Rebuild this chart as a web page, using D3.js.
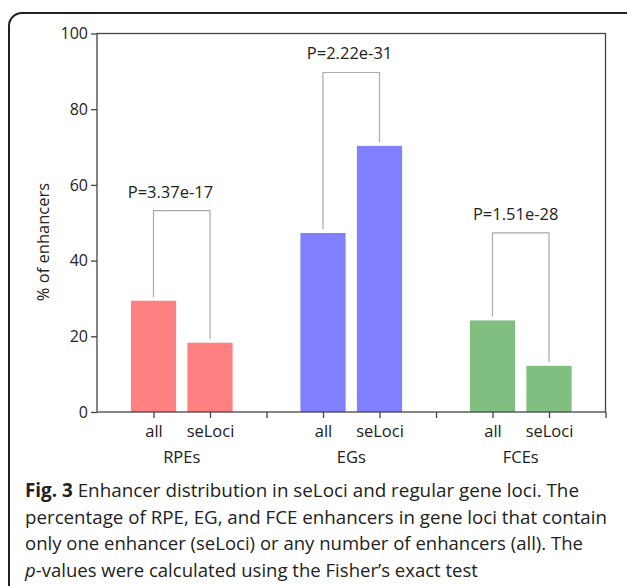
<!DOCTYPE html>
<html>
<head>
<meta charset="utf-8">
<script src="https://cdn.jsdelivr.net/npm/d3@7/dist/d3.min.js"></script>
<style>
    body { margin: 0; background: #fff; }
    svg { display: block; }
    text { font-family: "Open Sans", sans-serif; fill: #222; }
</style>
</head>
<body>
<div id="chart"></div>
<script>
"use strict";

// data
var groups = ["RPEs", "EGs", "FCEs"];
var subsets = ["all", "seLoci"];
var allValues = [29.4, 47.3, 24.2];
var seLociValues = [18.3, 70.3, 12.2];
var pLabels = ["P=3.37e-17", "P=2.22e-31", "P=1.51e-28"];
var bracketTops = [53.2, 89.7, 47.3];
var yTicks = [0, 20, 40, 60, 80, 100];
var captionLines = [
    ["Fig. 3", " Enhancer distribution in seLoci and regular gene loci. The"],
    ["", "percentage of RPE, EG, and FCE enhancers in gene loci that contain"],
    ["", "only one enhancer (seLoci) or any number of enhancers (all). The"],
    ["p", "-values were calculated using the Fisher\u2019s exact test"]
];

var width = 627;
var height = 586;
var groupColors = ["#ff8080", "#8080ff", "#80bf80"];
var labelShift = [-0.2, -0.03, -0.09]; // p label offset from bracket centre
var captionEnds = [579, 607, 583, 478];  // right edge of each caption line
var fs = 16.5;

var svg = d3.select("#chart")
    .append("svg")
    .attr("width", width)
    .attr("height", height);

// outer frame (right and bottom run off the picture)
svg.append("rect")
    .attr("x", 9)
    .attr("y", 13)
    .attr("width", 660)
    .attr("height", 640)
    .attr("rx", 13)
    .attr("fill", "none")
    .attr("stroke", "#222")
    .attr("stroke-width", 2);

var x = d3.scaleLinear().domain([0, 9]).range([97, 605.5]);
var y = d3.scaleLinear().domain([0, 100]).range([412, 33.5]);

// flatten to bars
var bars = [];
groups.forEach(function(g, i) {
    bars.push({ group: i, sub: 0, pos: 3 * i + 1, value: allValues[i] });
    bars.push({ group: i, sub: 1, pos: 3 * i + 2, value: seLociValues[i] });
});

var barWidth = x(0.8) - x(0);

svg.append("g")
    .selectAll("rect")
    .data(bars)
    .enter()
    .append("rect")
    .attr("x", function(d) { return x(d.pos) - barWidth / 2; })
    .attr("y", function(d) { return y(d.value); })
    .attr("width", barWidth)
    .attr("height", function(d) { return y(0) - y(d.value); })
    .attr("fill", function(d) { return groupColors[d.group]; });

// brackets
var brackets = svg.append("g")
    .attr("fill", "none")
    .attr("stroke", "#aaa")
    .attr("stroke-width", 1.2);

groups.forEach(function(g, i) {
    var x1 = x(3 * i + 1);
    var x2 = x(3 * i + 2);
    var top = y(bracketTops[i]);
    brackets.append("path")
        .attr("d", "M" + x1 + "," + y(allValues[i] + 1) +
              "V" + top + "H" + x2 + "V" + y(seLociValues[i] + 1));
    svg.append("text")
        .attr("x", x(3 * i + 1.5 + labelShift[i]))
        .attr("y", top - 13)
        .attr("text-anchor", "middle")
        .attr("font-size", fs)
        .text(pLabels[i]);
});

// axes frame
var spine = svg.append("g")
    .attr("fill", "none")
    .attr("stroke", "#444")
    .attr("stroke-width", 1.3);
spine.append("rect")
    .attr("x", x(0))
    .attr("y", y(100))
    .attr("width", x(9) - x(0))
    .attr("height", y(0) - y(100));

var yAxis = svg.append("g")
    .attr("transform", "translate(" + x(0) + ",0)")
    .call(d3.axisLeft(y).tickValues(yTicks).tickSize(6).tickPadding(3));
yAxis.select(".domain").remove();
yAxis.selectAll("line").attr("stroke", "#444").attr("stroke-width", 1.3);
yAxis.selectAll("text")
    .attr("font-size", 16)
    .attr("font-family", "Open Sans, sans-serif")
    .attr("fill", "#333");

var tickLabel = function(d) {
    var r = (d - 1) % 3;
    return r === 2 ? "" : subsets[r];
};
var xAxis = svg.append("g")
    .attr("transform", "translate(0," + y(0) + ")")
    .call(d3.axisBottom(x).tickValues(d3.range(1, 10)).tickFormat(tickLabel)
          .tickSize(6).tickPadding(7));
xAxis.select(".domain").remove();
xAxis.selectAll("line").attr("stroke", "#444").attr("stroke-width", 1.3);
xAxis.selectAll("text")
    .attr("font-size", fs)
    .attr("font-family", "Open Sans, sans-serif")
    .attr("fill", "#222");

svg.append("g")
    .selectAll("text")
    .data(groups)
    .enter()
    .append("text")
    .attr("x", function(d, i) { return x(3 * i + 1.5); })
    .attr("y", 463)
    .attr("text-anchor", "middle")
    .attr("font-size", fs)
    .text(function(d) { return d; });

svg.append("text")
    .attr("transform", "translate(49,242) rotate(-90)")
    .attr("text-anchor", "middle")
    .attr("font-size", fs)
    .text("% of enhancers");

// caption
var caption = svg.append("g");
captionLines.forEach(function(line, i) {
    var left = 25;
    var t = caption.append("text")
        .attr("x", left)
        .attr("y", 497 + i * 26.7)
        .attr("font-size", 19)
        .attr("fill", "#333")
        .attr("textLength", captionEnds[i] - left)
        .attr("lengthAdjust", "spacingAndGlyphs");
    if (line[0]) {
        t.append("tspan")
            .attr("font-weight", i === 0 ? "bold" : "normal")
            .attr("font-style", i === 3 ? "italic" : "normal")
            .text(line[0]);
    }
    t.append("tspan").text(line[1]);
});
</script>
</body>
</html>
